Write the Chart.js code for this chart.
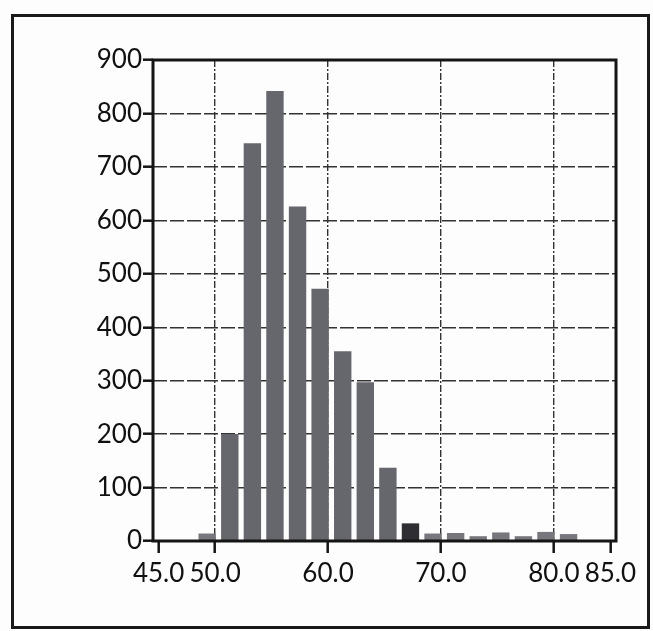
<!DOCTYPE html>
<html>
<head>
<meta charset="utf-8">
<script src="https://cdn.jsdelivr.net/npm/chart.js@4.4.1/dist/chart.umd.min.js"></script>
<style>
    html, body { margin: 0; padding: 0; background: #fdfdfd; }
    #wrap { position: relative; width: 653px; height: 631px; }
    #frame {
        position: absolute; left: 11px; top: 14px; width: 633px; height: 609px;
        border: 3px solid #1a1a1a; pointer-events: none;
    }
    canvas { position: absolute; left: 0; top: 0; }
</style>
</head>
<body>
<div id="wrap">
    <canvas id="chart" width="653" height="631"></canvas>
    <div id="frame"></div>
</div>
<script>
// bin centres
var bin_centers = [49.3, 51.3, 53.3, 55.3, 57.3, 59.3, 61.3, 63.3, 65.3, 67.3, 69.3, 71.3, 73.3, 75.3, 77.3, 79.3, 81.3]
var counts = [14, 200, 744, 842, 626, 472, 355, 297, 137, 33, 14, 15, 9, 16, 9, 17, 13]
var x_ticks = [45, 50, 60, 70, 80, 85]
var x_grid = [50, 60, 70, 80]
var y_ticks = [0, 100, 200, 300, 400, 500, 600, 700, 800, 900]

document.addEventListener('DOMContentLoaded', function () {
    var ctx = document.getElementById('chart').getContext('2d')

    var points = bin_centers.map((c, i) => ({ x: c, y: counts[i] }))
    var colors = counts.map((v, i) => {
        if (bin_centers[i] > 67 && bin_centers[i] < 68) return '#2e2e33'
        if (v < 20) return '#77777d'
        return '#66666d'
    })

    var frame_plugin = {
        id: 'plotFrame',
        afterDraw: function (chart) {
            var a = chart.chartArea
            var c = chart.ctx
            c.save()
            c.strokeStyle = '#151515'
            c.lineWidth = 3
            c.strokeRect(a.left, a.top, a.right - a.left, a.bottom - a.top)
            c.restore()
        }
    }

    var myChart = new Chart(ctx, {
        type: 'bar',
        data: {
            datasets: [{
                data: points,
                backgroundColor: colors,
                borderWidth: 0,
                barPercentage: 0.77,
                categoryPercentage: 1
            }]
        },
        options: {
            responsive: false,
            animation: false,
            layout: { padding: { left: 0, top: 60, right: 37, bottom: 0 } },
            plugins: { legend: { display: false }, tooltip: { enabled: false } },
            scales: {
                x: {
                    type: 'linear',
                    min: 44.5,
                    max: 85.5,
                    offset: false,
                    afterBuildTicks: function (scale) {
                        scale.ticks = x_ticks.map(v => ({ value: v }))
                    },
                    afterFit: function (scale) { scale.height = 90 },
                    ticks: {
                        autoSkip: false,
                        maxRotation: 0,
                        padding: 5,
                        color: '#111',
                        font: { family: 'Lato', size: 26 },
                        callback: v => Number(v).toFixed(1)
                    },
                    grid: {
                        offset: false,
                        color: c => (c.tick && x_grid.indexOf(c.tick.value) >= 0) ? '#333' : 'rgba(0,0,0,0)',
                        lineWidth: 1.4,
                        tickColor: '#151515',
                        tickWidth: 2.5,
                        tickLength: 12,
                        tickBorderDash: []
                    },
                    border: { display: false, dash: [7, 2, 2, 2] }
                },
                y: {
                    min: 0,
                    max: 900,
                    afterBuildTicks: function (scale) {
                        scale.ticks = y_ticks.map(v => ({ value: v }))
                    },
                    afterFit: function (scale) { scale.width = 153 },
                    ticks: {
                        padding: 1,
                        color: '#111',
                        font: { family: 'Lato', size: 26 }
                    },
                    grid: {
                        color: '#333',
                        lineWidth: 1.4,
                        tickColor: '#151515',
                        tickWidth: 2.5,
                        tickLength: 10,
                        tickBorderDash: []
                    },
                    border: { display: false, dash: [14, 3] }
                }
            }
        },
        plugins: [frame_plugin]
    })
})
</script>
</body>
</html>
